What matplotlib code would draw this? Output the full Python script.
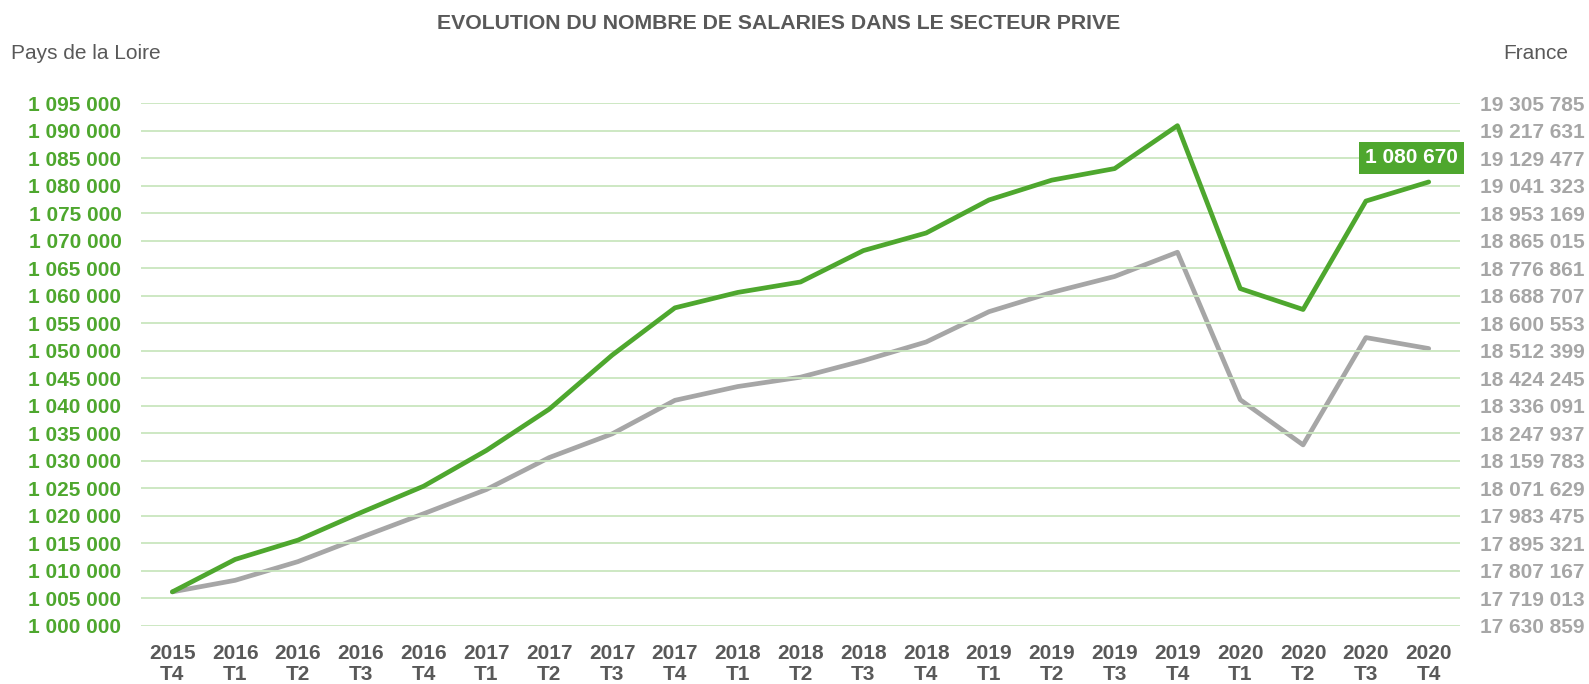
import numpy as np
import matplotlib.pyplot as plt
from matplotlib.ticker import FuncFormatter

plt.rcParams['font.family'] = ['Liberation Sans', 'DejaVu Sans']

# quarters
quarters = ['2015\nT4', '2016\nT1', '2016\nT2', '2016\nT3', '2016\nT4',
            '2017\nT1', '2017\nT2', '2017\nT3', '2017\nT4',
            '2018\nT1', '2018\nT2', '2018\nT3', '2018\nT4',
            '2019\nT1', '2019\nT2', '2019\nT3', '2019\nT4',
            '2020\nT1', '2020\nT2', '2020\nT3', '2020\nT4']

# Pays de la Loire (left axis)
pdl = [1006200, 1012100, 1015600, 1020600, 1025400, 1031900, 1039400,
       1049200, 1057800, 1060600, 1062500, 1068200, 1071400, 1077400,
       1081000, 1083100, 1090900, 1061300, 1057500, 1077200, 1080670]

# France (right axis)
france = [17740200, 17777200, 17837100, 17914700, 17990500, 18068100,
          18170400, 18246200, 18353700, 18397800, 18427800, 18480700,
          18540600, 18637600, 18699300, 18750400, 18828000, 18355500,
          18210900, 18554700, 18519500]

left_ticks = np.arange(1000000, 1095001, 5000)
right_ticks = [17630859 + i * 88154 for i in range(20)]

green = '#4EA72E'
grey = '#A6A6A6'
dark = '#595959'

def spaced(v, pos=None):
    return '{:,.0f}'.format(v).replace(',', ' ')

fig = plt.figure(figsize=(15.89, 6.84), dpi=100)
ax = fig.add_axes([0.0887, 0.0848, 0.8302, 0.7645])
ax2 = ax.twinx()

x = np.arange(len(quarters))
ax2.plot(x, france, color=grey, lw=3.4, solid_capstyle='round', zorder=2)
ax.plot(x, pdl, color=green, lw=3.4, solid_capstyle='round', zorder=3)

ax.set_zorder(ax2.get_zorder() + 1)
ax.patch.set_visible(False)

ax.set_xlim(-0.5, len(quarters) - 0.5)
ax.set_ylim(left_ticks[0], left_ticks[-1])
ax2.set_ylim(right_ticks[0], right_ticks[-1])
ax.set_yticks(left_ticks)
ax2.set_yticks(right_ticks)
ax.yaxis.set_major_formatter(FuncFormatter(spaced))
ax2.yaxis.set_major_formatter(FuncFormatter(spaced))
ax.set_xticks(x)
ax.set_xticklabels(quarters, linespacing=1.15)

ax.grid(axis='y', color='#C9E6BE', lw=1.3)
ax.set_axisbelow(True)
for a in (ax, ax2):
    for s in a.spines.values():
        s.set_visible(False)

ax.tick_params(axis='y', length=0, pad=14, labelsize=15, labelcolor=green)
ax2.tick_params(axis='y', length=0, pad=14, labelsize=15, labelcolor=grey)
ax.tick_params(axis='x', length=0, pad=13, labelsize=15, labelcolor=dark)
for lab in ax.get_yticklabels() + ax2.get_yticklabels() + ax.get_xticklabels():
    lab.set_fontweight('bold')

ax.annotate(spaced(pdl[-1]), (x[-1], pdl[-1]), xytext=(-17, 24),
            textcoords='offset pixels', ha='center', va='center',
            fontsize=15, fontweight='bold', color='white',
            bbox=dict(boxstyle='square,pad=0.3', fc=green, ec='none'))

fig.text(0.49, 0.965, 'EVOLUTION DU NOMBRE DE SALARIES DANS LE SECTEUR PRIVE',
         ha='center', va='center', fontsize=15.3, fontweight='bold', color=dark)
fig.text(0.007, 0.922, 'Pays de la Loire', ha='left', va='center',
         fontsize=15, color=dark)
fig.text(0.987, 0.922, 'France', ha='right', va='center',
         fontsize=15, color=dark)

fig.savefig('out.png', dpi=100)
